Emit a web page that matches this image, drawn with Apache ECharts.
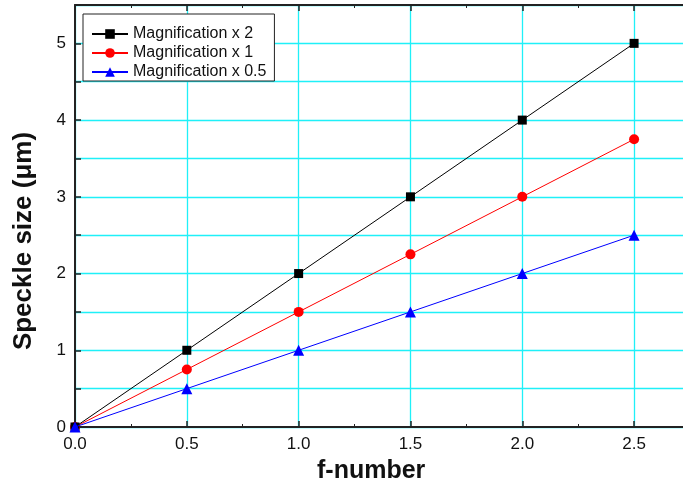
<!DOCTYPE html>
<html>
<head>
<meta charset="utf-8">
<script src="https://cdn.jsdelivr.net/npm/echarts@6/dist/echarts.min.js"></script>
<style>
  html, body { margin: 0; padding: 0; background: #fff; }
  #chart { width: 683px; height: 489px; }
</style>
</head>
<body>
<div id="chart"></div>
<script>
// f-number values along the x axis
const fNumbers = [0, 0.5, 1.0, 1.5, 2.0, 2.5];
// Speckle size (µm) for each magnification
const magX2 = [0, 1, 2, 3, 4, 5];
const magX1 = [0, 0.75, 1.5, 2.25, 3, 3.75];
const magX05 = [0, 0.5, 1, 1.5, 2, 2.5];
const seriesNames = ['Magnification x 2', 'Magnification x 1', 'Magnification x 0.5'];
const xTitle = 'f-number';
const yTitle = 'Speckle size (\u03bcm)';

const pairs = ys => fNumbers.map((x, i) => [x, ys[i]]);
const font = 'Liberation Sans, Arial, sans-serif';
const gridCyan = '#1ff0f8';

const chart = echarts.init(document.getElementById('chart'), null, { renderer: 'canvas' });

const xCommon = {
  type: 'value',
  min: 0,
  max: 2.75,
  interval: 0.5,
  axisLine: { show: true, lineStyle: { color: '#222', width: 2 } },
  axisTick: { show: true, inside: true, length: 6, lineStyle: { color: '#222', width: 1.5 } },
  minorTick: { show: true, splitNumber: 2, length: 3, lineStyle: { color: '#222', width: 1 } },
};

chart.setOption({
  animation: false,
  backgroundColor: '#fff',
  grid: { left: 75, top: 5, right: -7, bottom: 62, containLabel: false, outerBoundsMode: 'none' },
  legend: {
    orient: 'vertical',
    left: 83,
    top: 14,
    padding: [12, 8, 1, 8],
    itemGap: 3,
    itemWidth: 36,
    itemHeight: 12,
    backgroundColor: '#fff',
    borderColor: '#222',
    borderWidth: 1,
    borderRadius: 0,
    textStyle: { fontFamily: font, fontSize: 16, lineHeight: 16, color: '#111' },
    data: seriesNames,
  },
  // axis titles
  graphic: [
    {
      type: 'text', left: 317, top: 459, silent: true,
      style: { text: xTitle, font: 'bold 25px ' + font, fill: '#111' },
    },
    {
      type: 'text', x: 24, y: 241, rotation: Math.PI / 2, silent: true,
      style: {
        text: yTitle, font: 'bold 26px ' + font, fill: '#111',
        align: 'center', verticalAlign: 'middle',
      },
    },
  ],
  xAxis: [
    Object.assign({}, xCommon, {
      position: 'bottom',
      axisLabel: {
        fontFamily: font, fontSize: 17, color: '#111', margin: 9,
        formatter: v => (Math.abs(v * 2 - Math.round(v * 2)) < 1e-9 && v <= 2.5) ? v.toFixed(1) : ''
      },
      splitLine: { show: true, lineStyle: { color: gridCyan, width: 1.3 } },
    }),
    Object.assign({}, xCommon, {
      position: 'top',
      axisLabel: { show: false },
      splitLine: { show: false },
    }),
  ],
  yAxis: {
    type: 'value',
    min: 0,
    max: 5.5,
    interval: 0.5,
    axisLine: { show: true, lineStyle: { color: '#222', width: 2 } },
    axisTick: { show: true, inside: true, length: 6, lineStyle: { color: '#222', width: 1.5 } },
    axisLabel: {
      fontFamily: font, fontSize: 17, color: '#111', margin: 9,
      formatter: v => (Math.abs(v - Math.round(v)) < 1e-9 && v <= 5) ? String(Math.round(v)) : ''
    },
    splitLine: { show: true, lineStyle: { color: gridCyan, width: 1.3 } },
  },
  series: [
    {
      name: seriesNames[0], type: 'line', data: pairs(magX2),
      symbol: 'rect', symbolSize: 9, clip: false,
      lineStyle: { color: '#000', width: 1 }, itemStyle: { color: '#000' }, z: 5,
    },
    {
      name: seriesNames[1], type: 'line', data: pairs(magX1),
      symbol: 'circle', symbolSize: 10, clip: false,
      lineStyle: { color: '#ff0000', width: 1 }, itemStyle: { color: '#ff0000' }, z: 4,
    },
    {
      name: seriesNames[2], type: 'line', data: pairs(magX05),
      symbol: 'triangle', symbolSize: 11, clip: false,
      lineStyle: { color: '#0000ff', width: 1 }, itemStyle: { color: '#0000ff' }, z: 6,
    },
  ],
});
</script>
</body>
</html>
